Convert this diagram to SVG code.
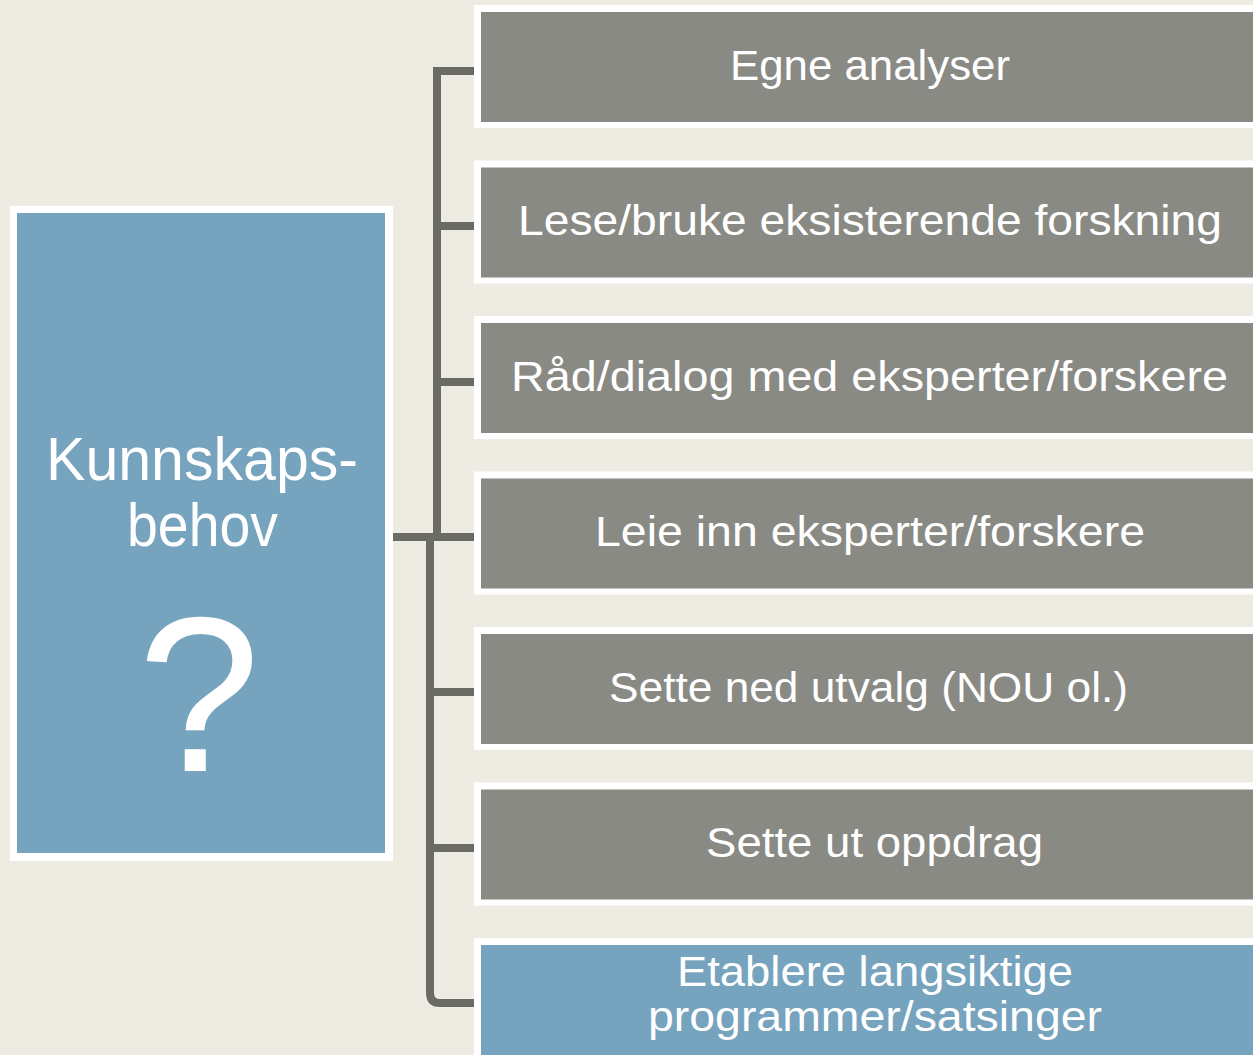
<svg xmlns="http://www.w3.org/2000/svg" width="1253" height="1055" viewBox="0 0 1253 1055">
<style>
.bg{fill:#EEEBE3}
.frame{fill:#FFFFFF}
.gray{fill:#8A8A84}
.blue{fill:#76A3BD}
.con{fill:none;stroke:#6B6B66;stroke-width:8;stroke-linejoin:miter;stroke-linecap:butt}
.t{font-family:"Liberation Sans",Arial,sans-serif;fill:#FFFFFF;text-anchor:middle}
.lbl{font-size:42px}
</style>
<rect class="bg" x="0" y="0" width="1253" height="1055"/>
<g id="connectors">
<path class="con" d="M393,537 H474"/>
<path class="con" d="M474,71 H437 V537"/>
<path class="con" d="M437,226 H474 M437,382 H474"/>
<path class="con" d="M430,537 V993 Q430,1003 440,1003 H474"/>
<path class="con" d="M430,692 H474 M430,848 H474"/>
</g>
<g id="n0">
<rect class="frame" x="10" y="206" width="383" height="655"/>
<rect class="blue" x="17" y="213" width="368" height="640"/>
<text class="t" x="202" y="480" font-size="62" textLength="312" lengthAdjust="spacingAndGlyphs">Kunnskaps-</text>
<text class="t" x="202.5" y="546" font-size="62" textLength="151" lengthAdjust="spacingAndGlyphs">behov</text>
<text class="t" x="199" y="771" font-size="220">?</text>
</g>
<g id="n1">
<rect class="frame" x="474" y="5" width="800" height="123"/>
<rect class="gray" x="481" y="12" width="800" height="110"/>
<text class="t lbl" x="870" y="79.5" textLength="280" lengthAdjust="spacingAndGlyphs">Egne analyser</text>
</g>
<g id="n2">
<rect class="frame" x="474" y="160.5" width="800" height="123"/>
<rect class="gray" x="481" y="167.5" width="800" height="110"/>
<text class="t lbl" x="870" y="235" textLength="704" lengthAdjust="spacingAndGlyphs">Lese/bruke eksisterende forskning</text>
</g>
<g id="n3">
<rect class="frame" x="474" y="316" width="800" height="123"/>
<rect class="gray" x="481" y="323" width="800" height="110"/>
<text class="t lbl" x="869.5" y="391" textLength="717" lengthAdjust="spacingAndGlyphs">Råd/dialog med eksperter/forskere</text>
</g>
<g id="n4">
<rect class="frame" x="474" y="471.5" width="800" height="123"/>
<rect class="gray" x="481" y="478.5" width="800" height="110"/>
<text class="t lbl" x="870" y="546" textLength="550" lengthAdjust="spacingAndGlyphs">Leie inn eksperter/forskere</text>
</g>
<g id="n5">
<rect class="frame" x="474" y="627" width="800" height="123"/>
<rect class="gray" x="481" y="634" width="800" height="110"/>
<text class="t lbl" x="868.5" y="702" textLength="519" lengthAdjust="spacingAndGlyphs">Sette ned utvalg (NOU ol.)</text>
</g>
<g id="n6">
<rect class="frame" x="474" y="782.5" width="800" height="123"/>
<rect class="gray" x="481" y="789.5" width="800" height="110"/>
<text class="t lbl" x="874.5" y="857" textLength="337" lengthAdjust="spacingAndGlyphs">Sette ut oppdrag</text>
</g>
<g id="n7">
<rect class="frame" x="474" y="938" width="800" height="123"/>
<rect class="blue" x="481" y="945" width="800" height="115"/>
<text class="t lbl" x="875" y="986" textLength="396" lengthAdjust="spacingAndGlyphs">Etablere langsiktige</text>
<text class="t lbl" x="875" y="1031" textLength="454" lengthAdjust="spacingAndGlyphs">programmer/satsinger</text>
</g>
</svg>
